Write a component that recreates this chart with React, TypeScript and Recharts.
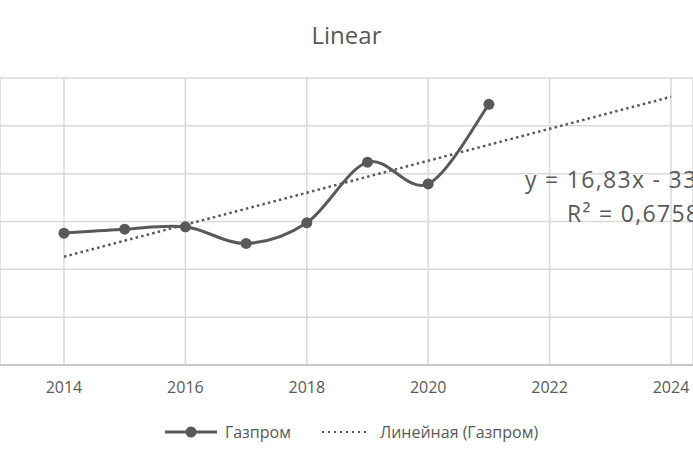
import React from 'react';
import { ComposedChart, Line, XAxis, YAxis, CartesianGrid } from 'recharts';

const years = [2014, 2015, 2016, 2017, 2018, 2019, 2020, 2021];
const gazprom = [137.8, 142, 144.4, 127.1, 148.6, 212, 189.3, 272.5];
const xTicks = [2014, 2016, 2018, 2020, 2022, 2024];
const yTicks = [0, 50, 100, 150, 200, 250, 300];
const trendYears = [2014, 2024];
const equationText = 'y = 16,83x - 33784';
const r2Text = 'R² = 0,6758';

const data = years.map((year, i) => ({ year, value: gazprom[i] }));

// least squares fit, same as Excel's linear trendline
const n = years.length;
const mx = years.reduce((a, b) => a + b, 0) / n;
const my = gazprom.reduce((a, b) => a + b, 0) / n;
let sxy = 0;
let sxx = 0;
years.forEach((x, i) => {
  sxy += (x - mx) * (gazprom[i] - my);
  sxx += (x - mx) * (x - mx);
});
const slope = sxy / sxx;
const trendData = trendYears.map((year) => ({ year, trend: my + slope * (year - mx) }));

const GREY = '#595959';
const FONT = '"Open Sans", sans-serif';

// Excel-like smoothed line (Catmull-Rom as bezier segments)
const excelCurve = (context: any) => {
  let pts: number[][] = [];
  return {
    areaStart() {},
    areaEnd() {},
    lineStart() {
      pts = [];
    },
    lineEnd() {
      if (!pts.length) return;
      context.moveTo(pts[0][0], pts[0][1]);
      for (let i = 0; i < pts.length - 1; i++) {
        const p0 = pts[Math.max(i - 1, 0)];
        const p1 = pts[i];
        const p2 = pts[i + 1];
        const p3 = pts[Math.min(i + 2, pts.length - 1)];
        context.bezierCurveTo(
          p1[0] + (p2[0] - p0[0]) / 6,
          p1[1] + (p2[1] - p0[1]) / 6,
          p2[0] - (p3[0] - p1[0]) / 6,
          p2[1] - (p3[1] - p1[1]) / 6,
          p2[0],
          p2[1]
        );
      }
    },
    point(x: number, y: number) {
      pts.push([+x, +y]);
    },
  };
};

const ChartLegend = () => (
  <div
    style={{
      position: 'absolute',
      top: 422,
      left: 0,
      width: 693,
      display: 'flex',
      justifyContent: 'center',
      alignItems: 'center',
      fontFamily: FONT,
      fontSize: 16,
      color: GREY,
      paddingLeft: 10,
      boxSizing: 'border-box',
      lineHeight: '20px',
    }}
  >
    <svg width={52} height={14} style={{ marginRight: 8 }}>
      <line x1={0} y1={7} x2={52} y2={7} stroke={GREY} strokeWidth={3} />
      <circle cx={26} cy={7} r={5.5} fill={GREY} />
    </svg>
    <span>Газпром</span>
    <svg width={48} height={14} style={{ marginLeft: 31, marginRight: 10 }}>
      <line x1={0} y1={7} x2={48} y2={7} stroke={GREY} strokeWidth={2} strokeDasharray="2 4" />
    </svg>
    <span>Линейная (Газпром)</span>
  </div>
);

export default function App() {
  return (
    <div
      style={{
        position: 'absolute',
        left: 0,
        top: 0,
        width: 693,
        height: 462,
        overflow: 'hidden',
        background: '#fff',
      }}
    >
      <div
        style={{
          position: 'absolute',
          top: 20,
          width: 693,
          textAlign: 'center',
          fontFamily: FONT,
          fontSize: 24,
          color: GREY,
          lineHeight: '30px',
        }}
      >
        Linear
      </div>
      <ComposedChart width={693} height={462} margin={{ top: 78, right: 0, bottom: 67, left: 0 }}>
        <CartesianGrid stroke="#d9d9d9" strokeWidth={1.5} />
        <XAxis
          type="number"
          dataKey="year"
          domain={[2012.946, 2024.362]}
          allowDataOverflow
          ticks={xTicks}
          tickLine={false}
          axisLine={{ stroke: '#bfbfbf', strokeWidth: 1.5 }}
          tickMargin={11}
          tick={{ fill: GREY, fontSize: 16, fontFamily: FONT }}
          height={30}
        />
        <YAxis hide type="number" domain={[0, 300]} ticks={yTicks} />
        <Line
          data={trendData}
          dataKey="trend"
          type="linear"
          stroke={GREY}
          strokeWidth={2.5}
          strokeDasharray="2.5 3.2"
          dot={false}
          activeDot={false}
          isAnimationActive={false}
        />
        <Line
          data={data}
          dataKey="value"
          type={excelCurve as any}
          stroke={GREY}
          strokeWidth={3}
          dot={{ r: 5.5, fill: GREY, stroke: GREY, strokeWidth: 0 }}
          activeDot={false}
          isAnimationActive={false}
        />
      </ComposedChart>
      <ChartLegend />
      <div
        style={{
          position: 'absolute',
          left: 525,
          top: 162,
          fontFamily: FONT,
          fontSize: 23,
          color: GREY,
          letterSpacing: 1.3,
          whiteSpace: 'nowrap',
          lineHeight: '34px',
        }}
      >
        <div>{equationText}</div>
        <div style={{ paddingLeft: 42 }}>{r2Text}</div>
      </div>
    </div>
  );
}
